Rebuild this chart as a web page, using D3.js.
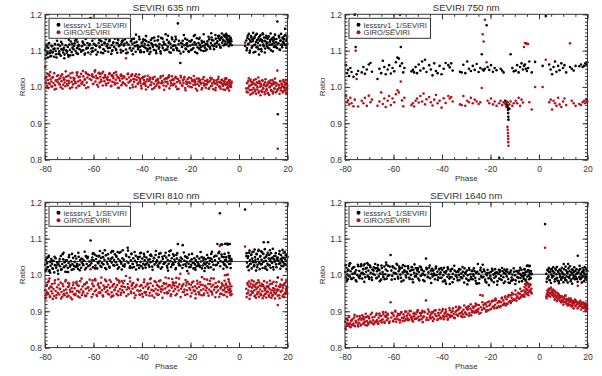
<!DOCTYPE html>
<meta charset="utf-8">
<html>
<body style="margin:0;background:#fff">
<div id="chartContainer"></div>
<script src="https://d3js.org/d3.v7.min.js"></script>
<script>
// phases of the observations used in the 635, 810 and 1640 nm panels
var phase = [
  -79.9,-79.6,-79.4,-79.1,-78.8,-78.6,-78.3,-78.0,-77.7,-77.4,
  -77.1,-76.9,-76.5,-76.2,-75.9,-75.6,-75.4,-75.0,-74.7,-74.4,
  -74.1,-73.8,-73.5,-73.2,-72.9,-72.5,-72.2,-71.9,-71.6,-71.3,
  -71.0,-70.6,-70.3,-70.0,-69.7,-69.4,-69.0,-68.7,-68.4,-68.1,
  -67.8,-67.4,-67.1,-66.8,-66.4,-66.1,-65.8,-65.5,-65.1,-64.8,
  -64.5,-64.2,-63.8,-63.5,-63.2,-62.8,-62.5,-62.2,-61.8,-61.2,
  -60.9,-60.5,-60.2,-59.9,-59.5,-59.2,-58.9,-58.5,-58.2,-57.9,
  -57.5,-57.2,-56.9,-56.5,-56.2,-55.9,-55.5,-55.2,-54.9,-54.5,
  -54.2,-53.9,-53.5,-53.2,-52.8,-52.5,-52.2,-51.8,-51.5,-51.2,
  -50.8,-50.5,-50.2,-49.8,-49.5,-49.1,-48.8,-48.5,-48.1,-47.8,
  -47.5,-47.1,-46.6,-46.3,-45.9,-45.6,-45.3,-44.9,-44.6,-44.3,
  -43.9,-43.6,-43.3,-42.9,-42.6,-42.2,-41.9,-41.6,-41.2,-40.9,
  -40.6,-40.2,-39.9,-39.5,-39.2,-38.9,-38.5,-38.2,-37.8,-37.5,
  -37.2,-36.8,-36.5,-36.1,-35.8,-35.5,-35.1,-34.8,-34.4,-34.1,
  -33.8,-33.4,-33.1,-32.8,-32.4,-32.1,-31.7,-31.4,-31.1,-30.7,
  -30.4,-30.0,-29.7,-29.4,-29.0,-28.7,-28.3,-28.0,-27.7,-27.3,
  -27.0,-26.6,-26.3,-26.0,-25.6,-25.2,-24.9,-24.6,-24.2,-23.9,
  -23.5,-23.2,-22.9,-22.5,-22.2,-21.8,-21.5,-21.2,-20.8,-20.5,
  -20.1,-19.8,-19.5,-19.1,-18.8,-18.4,-18.1,-17.8,-17.4,-17.1,
  -16.7,-16.4,-16.1,-15.7,-15.4,-15.0,-14.7,-14.4,-14.0,-13.7,
  -13.3,-13.0,-12.7,-12.3,-12.0,-11.6,-11.3,-11.0,-10.6,-10.3,
  -9.9,-9.6,-9.3,-8.9,-8.6,-8.2,-7.9,-7.6,-7.2,-6.9,
  -6.6,-6.3,-6.0,-5.7,-5.4,-5.1,-4.8,-4.5,-4.2,-3.9,
  -3.6,-3.3,-3.0,-5.0,-4.6,-4.0,-6.2,-5.8,-3.8,-7.4,
  2.5,3.0,3.3,3.6,3.9,4.2,4.5,4.8,5.1,5.4,
  5.7,6.0,6.3,6.6,6.9,7.2,7.5,7.8,8.1,8.4,
  8.7,9.0,9.3,9.6,9.9,10.2,10.5,10.8,11.1,11.4,
  11.7,12.0,12.3,12.6,12.9,13.2,13.5,13.8,14.1,14.4,
  14.7,15.0,15.3,15.7,16.0,16.3,16.6,16.9,17.2,17.5,
  17.8,18.1,18.4,18.7,19.0,19.3,19.5,19.7,19.9,15.8,
  -79.75,-79.25,-78.95,-78.45,-77.85,-77.25,-76.75,-76.05,-75.25,-74.55,
  -73.95,-73.35,-72.75,-72.05,-71.45,-70.85,-70.15,-69.55,-68.85,-68.25,
  -67.55,-66.95,-66.25,-65.65,-64.95,-64.35,-63.65,-63.05,-62.35,-61.55,
  -60.75,-60.05,-59.35,-58.75,-58.05,-57.35,-56.75,-56.05,-55.35,-54.75,
  -54.05,-53.35,-52.65,-51.95,-51.35,-50.65,-49.95,-49.35,-48.65,-47.95,
  -47.25,-46.45,-45.75,-45.05,-44.45,-43.75,-43.05,-42.45,-41.75,-41.05,
  -40.35,-39.65,-39.05,-38.35,-37.65,-36.95,-36.35,-35.65,-34.95,-34.25,
  -33.55,-32.95,-32.25,-31.55,-30.85,-30.25,-29.55,-28.85,-28.15,-27.55,
  -26.85,-26.15,-25.45,-24.75,-24.05,-23.35,-22.75,-22.05,-21.35,-20.65,
  -19.95,-19.35,-18.65,-17.95,-17.25,-16.55,-15.85,-15.25,-14.55,-13.85,
  -13.15,-12.55,-11.85,-11.15,-10.45,-9.75,-9.15,-8.45,-7.75,-7.05,
  -6.45,-5.95,-5.55,-5.25,-4.95,-4.35,-4.05,-3.75,-3.45,-3.15,
  3.15,3.45,3.75,4.05,4.35,4.65,4.95,5.25,5.55,5.85,
  6.15,6.45,6.75,7.05,7.35,7.65,7.95,8.25,8.55,8.85,
  9.15,9.45,9.75,10.05,10.35,10.65,10.95,11.25,11.55,11.85,
  12.15,12.45,12.75,13.05,13.35,13.65,13.95,14.25,14.55,14.85,
  15.15,15.45,15.95,16.45,16.75,17.05,17.35,17.65,17.95,18.25,
  18.55,18.85,19.15,19.45,19.65,19.85,-78.15,-72.35,-66.65,-60.35,
  -52.35,-44.05,-36.65,-29.25,-21.65,-16.25,-11.45,-8.15,-70.45,-57.65,
  -48.35,-40.75,-33.25,-25.85,-18.15,-62.95,-50.05,-38.75,-27.15,-14.25
];

var less635 = [
  1.102,1.088,1.115,1.097,1.081,1.108,1.121,1.093,1.100,1.085,
  1.112,1.095,1.104,1.083,1.118,1.099,1.090,1.127,1.106,1.092,
  1.098,1.113,1.086,1.104,1.119,1.095,1.108,1.089,1.135,1.101,
  1.094,1.110,1.083,1.117,1.102,1.125,1.096,1.108,1.088,1.113,
  1.120,1.099,1.131,1.107,1.091,1.116,1.104,1.138,1.097,1.112,
  1.125,1.101,1.117,1.092,1.132,1.108,1.121,1.095,1.114,1.190,
  1.106,1.127,1.098,1.119,1.134,1.102,1.113,1.142,1.096,1.121,
  1.110,1.128,1.095,1.116,1.137,1.104,1.122,1.099,1.131,1.112,
  1.118,1.097,1.126,1.108,1.139,1.115,1.101,1.123,1.110,1.133,
  1.105,1.121,1.094,1.129,1.112,1.140,1.102,1.118,1.127,1.099,
  1.114,1.131,1.103,1.122,1.095,1.117,1.136,1.108,1.125,1.100,
  1.119,1.106,1.133,1.112,1.097,1.124,1.115,1.104,1.138,1.110,
  1.101,1.121,1.113,1.131,1.096,1.118,1.107,1.126,1.099,1.115,
  1.123,1.108,1.097,1.120,1.134,1.111,1.102,1.127,1.116,1.093,
  1.112,1.129,1.105,1.118,1.098,1.135,1.114,1.107,1.124,1.101,
  1.117,1.103,1.130,1.111,1.122,1.096,1.119,1.108,1.136,1.113,
  1.102,1.125,1.114,1.131,1.106,1.175,1.118,1.099,1.066,1.121,
  1.110,1.127,1.097,1.115,1.133,1.104,1.120,1.112,1.098,1.126,
  1.114,1.102,1.129,1.117,1.107,1.123,1.096,1.119,1.134,1.109,
  1.121,1.105,1.116,1.101,1.127,1.112,1.099,1.124,1.108,1.118,
  1.103,1.126,1.113,1.131,1.109,1.121,1.136,1.115,1.128,1.104,
  1.119,1.133,1.111,1.126,1.140,1.117,1.129,1.108,1.137,1.122,
  1.130,1.114,1.143,1.125,1.136,1.118,1.141,1.127,1.112,1.133,
  1.120,1.131,1.115,1.138,1.124,1.129,1.142,1.117,1.126,1.134,
  1.113,1.128,1.107,1.141,1.119,1.132,1.100,1.124,1.137,1.111,
  1.126,1.095,1.134,1.117,1.143,1.109,1.129,1.121,1.104,1.138,
  1.115,1.131,1.098,1.124,1.145,1.112,1.127,1.106,1.135,1.119,
  1.122,1.108,1.139,1.116,1.129,1.101,1.133,1.118,1.126,1.110,
  1.131,1.114,1.123,1.107,0.925,1.120,1.136,1.102,1.128,1.117,
  1.109,1.134,1.121,1.140,1.160,1.115,1.127,1.132,1.119,1.180,
  1.078,1.109,1.092,1.120,1.084,1.113,1.096,1.106,1.081,1.117,
  1.090,1.124,1.102,1.079,1.115,1.098,1.130,1.087,1.119,1.104,
  1.128,1.093,1.112,1.141,1.100,1.122,1.089,1.135,1.107,1.118,
  1.097,1.135,1.116,1.089,1.143,1.109,1.126,1.093,1.120,1.138,
  1.107,1.129,1.091,1.121,1.146,1.102,1.132,1.115,1.095,1.127,
  1.119,1.093,1.141,1.106,1.128,1.090,1.122,1.144,1.111,1.131,
  1.096,1.125,1.110,1.140,1.104,1.091,1.129,1.117,1.136,1.100,
  1.128,1.109,1.092,1.133,1.118,1.145,1.103,1.124,1.094,1.131,
  1.114,1.138,1.101,1.127,1.092,1.119,1.143,1.106,1.130,1.097,
  1.125,1.103,1.140,1.116,1.093,1.132,1.109,1.122,1.145,1.100,
  1.119,1.138,1.105,1.129,1.112,1.143,1.121,1.134,1.110,1.147,
  1.128,1.139,1.118,1.146,1.131,1.123,1.140,1.117,1.135,1.126,
  1.101,1.135,1.118,1.146,1.094,1.127,1.140,1.108,1.131,1.149,
  1.115,1.138,1.097,1.124,1.146,1.110,1.133,1.089,1.127,1.142,
  1.104,1.129,1.148,1.117,1.136,1.095,1.125,1.141,1.112,1.133,
  1.139,1.106,1.124,1.147,1.116,1.131,1.098,1.137,1.121,1.144,
  1.110,1.132,1.119,1.141,1.103,1.127,1.146,1.114,1.136,1.124,
  1.131,1.117,1.143,1.108,1.128,1.139,1.094,1.103,1.124,1.107,
  1.099,1.132,1.106,1.141,1.118,1.135,1.148,1.141,1.088,1.129,
  1.124,1.096,1.139,1.108,1.143,1.105,1.120,1.129,1.102,1.114
];
var giro635 = [
  1.055,1.012,1.028,1.003,1.019,0.997,1.034,1.008,1.022,1.015,
  1.001,1.026,1.011,1.038,1.005,1.018,0.995,1.030,1.013,1.021,
  1.009,1.024,0.999,1.016,1.035,1.006,1.020,1.012,1.002,1.028,
  1.017,1.004,1.031,1.011,0.996,1.025,1.014,1.039,1.007,1.019,
  1.023,1.010,0.998,1.032,1.015,1.027,1.003,1.018,1.036,1.009,
  1.014,1.029,1.005,1.021,1.040,1.012,1.026,0.999,1.033,1.090,
  1.019,1.035,1.008,1.027,1.042,1.015,1.031,1.006,1.024,1.038,
  1.012,1.028,1.020,1.037,1.004,1.025,1.016,1.033,1.009,1.022,
  1.027,1.011,1.035,1.018,1.002,1.030,1.014,1.024,1.038,1.007,
  1.020,1.033,1.010,1.026,0.998,1.017,1.031,1.005,1.023,1.013,
  1.029,1.008,1.079,1.021,1.035,1.012,1.026,0.997,1.018,1.032,
  1.006,1.022,1.014,1.030,1.001,1.019,1.027,1.010,1.034,1.016,
  1.011,0.996,1.024,1.008,1.019,1.029,1.003,1.015,1.021,1.000,
  1.017,1.026,1.005,1.013,0.994,1.022,1.009,1.028,1.002,1.018,
  1.007,1.020,1.012,0.998,1.025,1.010,1.016,1.031,1.004,1.021,
  1.014,1.002,1.023,1.009,1.027,0.996,1.017,1.011,1.029,1.005,
  1.019,1.008,1.025,1.001,1.013,1.022,0.995,1.016,1.010,1.026,
  1.004,1.018,1.011,1.027,0.997,1.015,1.008,1.021,1.002,1.013,
  1.010,1.024,0.999,1.016,1.006,1.020,1.012,0.995,1.023,1.008,
  1.015,1.003,1.019,1.009,0.993,1.021,1.011,1.004,1.017,0.998,
  1.007,1.020,1.013,0.996,1.016,1.002,1.024,1.010,0.994,1.014,
  1.009,0.998,1.018,1.006,1.022,1.001,1.012,0.995,1.019,1.008,
  1.003,1.016,1.010,0.992,1.021,1.007,1.013,0.999,1.017,1.005,
  1.011,1.000,1.014,1.006,0.996,1.019,1.008,1.023,1.002,1.012,
  1.122,0.996,1.010,0.985,1.017,1.002,0.991,1.020,1.006,0.982,
  1.013,0.998,1.008,0.988,1.021,1.004,0.993,1.011,0.984,1.016,
  1.001,1.009,0.990,1.018,0.997,1.005,0.986,1.013,1.002,0.994,
  1.007,0.983,1.015,0.999,1.010,0.992,1.004,1.019,0.987,1.008,
  0.995,1.012,1.003,0.989,0.830,1.006,0.997,1.016,0.991,1.009,
  1.002,0.985,1.014,0.996,1.007,1.020,0.993,1.011,1.004,1.045,
  1.024,0.998,1.036,1.010,1.041,1.002,1.027,0.993,1.018,1.032,
  1.006,1.030,0.995,1.021,1.043,1.008,1.017,1.037,0.999,1.025,
  1.014,1.039,1.003,1.028,1.010,1.044,1.020,0.997,1.035,1.022,
  1.031,1.009,1.046,1.024,1.001,1.036,1.015,1.042,1.027,1.005,
  1.019,1.038,1.003,1.029,1.012,1.041,0.998,1.023,1.034,1.011,
  1.026,1.004,1.037,1.015,1.030,0.999,1.021,1.035,1.008,1.024,
  1.003,1.027,1.012,0.993,1.031,1.018,1.006,1.025,0.997,1.016,
  1.022,1.001,1.029,1.011,0.992,1.024,1.014,1.032,1.004,1.019,
  1.009,1.028,0.994,1.017,1.031,1.003,1.021,0.991,1.012,1.026,
  1.000,1.018,1.030,1.006,0.990,1.023,1.013,0.997,1.027,1.008,
  1.016,0.995,1.025,1.004,1.019,0.991,1.012,1.028,1.001,1.020,
  0.993,1.015,1.006,1.024,0.998,1.011,0.990,1.018,1.003,1.009,
  0.987,1.012,0.996,1.024,1.004,0.979,1.015,0.992,1.008,0.984,
  1.019,0.993,1.006,0.981,1.013,0.999,1.026,0.988,1.010,0.977,
  1.003,0.986,1.017,0.995,1.008,0.980,1.021,0.990,1.005,0.983,
  1.012,0.978,1.001,1.018,0.989,1.009,0.982,1.014,0.996,1.023,
  0.985,1.010,0.994,1.004,0.981,1.016,0.998,1.007,0.988,1.019,
  1.001,0.990,1.012,0.983,1.006,0.995,1.030,1.025,1.040,1.028,
  1.033,1.035,1.022,1.026,1.009,1.017,1.021,1.014,1.030,1.039,
  1.031,1.019,1.012,1.024,1.016,1.037,1.027,1.008,1.021,1.005
];

var less810 = [
  1.028,1.041,1.015,1.033,1.022,1.049,1.010,1.036,1.025,1.044,
  1.031,1.018,1.039,1.007,1.027,1.046,1.020,1.034,1.012,1.029,
  1.037,1.024,1.052,1.016,1.030,1.043,1.021,1.035,1.009,1.026,
  1.040,1.019,1.033,1.055,1.023,1.038,1.014,1.030,1.047,1.025,
  1.036,1.022,1.045,1.031,1.017,1.050,1.028,1.041,1.020,1.034,
  1.043,1.027,1.039,1.015,1.052,1.030,1.046,1.024,1.037,1.095,
  1.032,1.048,1.021,1.040,1.056,1.026,1.044,1.018,1.035,1.051,
  1.038,1.025,1.047,1.033,1.060,1.029,1.042,1.019,1.054,1.036,
  1.030,1.045,1.023,1.039,1.062,1.034,1.048,1.027,1.041,1.057,
  1.035,1.050,1.028,1.044,1.021,1.039,1.063,1.031,1.046,1.025,
  1.042,1.029,1.056,1.037,1.075,1.033,1.049,1.024,1.040,1.058,
  1.031,1.046,1.022,1.039,1.053,1.034,1.027,1.044,1.019,1.050,
  1.036,1.024,1.045,1.031,1.058,1.040,1.020,1.048,1.033,1.042,
  1.027,1.043,1.035,1.052,1.023,1.038,1.047,1.029,1.055,1.034,
  1.040,1.026,1.049,1.032,1.060,1.037,1.021,1.044,1.030,1.053,
  1.035,1.048,1.025,1.041,1.031,1.065,1.038,1.022,1.046,1.033,
  1.029,1.042,1.036,1.019,1.045,1.085,1.032,1.040,1.026,1.037,
  1.044,1.082,1.028,1.039,1.051,1.024,1.036,1.047,1.031,1.021,
  1.038,1.027,1.043,1.033,1.018,1.046,1.029,1.040,1.024,1.035,
  1.030,1.045,1.022,1.037,1.049,1.026,1.041,1.032,1.019,1.043,
  1.034,1.024,1.047,1.031,1.039,1.021,1.044,1.036,1.028,1.050,
  1.040,1.027,1.052,1.085,1.033,1.045,1.170,1.038,1.056,1.084,
  1.035,1.049,1.030,1.086,1.042,1.085,1.036,1.084,1.053,1.039,
  1.031,1.044,1.038,1.085,1.086,1.047,1.029,1.040,1.085,1.084,
  1.180,1.052,1.034,1.047,1.025,1.061,1.040,1.031,1.056,1.045,
  1.038,1.064,1.027,1.049,1.035,1.058,1.021,1.044,1.069,1.033,
  1.050,1.029,1.042,1.062,1.036,1.090,1.047,1.018,1.039,1.055,
  1.031,1.090,1.045,1.027,1.040,1.060,1.035,1.048,1.022,1.043,
  1.036,1.052,1.029,1.046,0.993,1.039,1.058,1.032,1.044,1.025,
  1.048,1.035,1.061,1.030,1.043,1.054,1.038,1.027,1.049,1.041,
  1.012,1.047,1.021,1.053,1.006,1.038,1.017,1.050,1.026,1.003,
  1.044,1.014,1.057,1.023,1.040,1.008,1.049,1.027,1.058,1.016,
  1.052,1.025,1.061,1.013,1.045,1.030,1.064,1.019,1.050,1.027,
  1.041,1.060,1.018,1.053,1.032,1.066,1.022,1.049,1.068,1.016,
  1.057,1.020,1.045,1.065,1.026,1.053,1.017,1.061,1.034,1.068,
  1.023,1.052,1.067,1.019,1.058,1.030,1.063,1.015,1.049,1.027,
  1.061,1.018,1.051,1.030,1.064,1.022,1.056,1.014,1.046,1.066,
  1.025,1.058,1.017,1.050,1.032,1.061,1.020,1.054,1.067,1.028,
  1.052,1.016,1.060,1.027,1.048,1.019,1.062,1.030,1.011,1.056,
  1.022,1.058,1.033,1.014,1.051,1.026,1.063,1.018,1.047,1.029,
  1.055,1.020,1.046,1.064,1.015,1.053,1.028,1.060,1.024,1.050,
  1.017,1.058,1.026,1.049,1.021,1.061,1.030,1.052,1.019,1.044,
  1.060,1.022,1.051,1.013,1.067,1.030,1.055,1.018,1.063,1.035,
  1.024,1.070,1.041,1.012,1.057,1.028,1.066,1.036,1.016,1.052,
  1.065,1.030,1.019,1.058,1.037,1.071,1.023,1.050,1.014,1.061,
  1.027,1.055,1.068,1.020,1.046,1.033,1.072,1.015,1.052,1.039,
  1.060,1.021,1.048,1.031,1.066,1.017,1.055,1.040,1.069,1.024,
  1.047,1.063,1.029,1.056,1.016,1.051,1.013,1.061,1.024,1.058,
  1.066,1.020,1.054,1.012,1.049,1.025,1.058,1.064,1.008,1.053,
  1.015,1.060,1.022,1.055,1.018,1.050,1.063,1.027,1.057,1.011
];
var giro810 = [
  0.958,0.944,0.971,0.952,0.980,0.947,0.963,0.939,0.968,0.955,
  0.975,0.949,0.961,0.942,0.985,0.956,0.937,0.966,0.951,0.973,
  0.946,0.962,0.979,0.953,0.940,0.969,0.957,0.944,0.982,0.960,
  0.950,0.967,0.943,0.976,0.959,0.938,0.964,0.954,0.972,0.947,
  0.963,0.948,0.977,0.956,0.941,0.970,0.952,0.983,0.960,0.945,
  0.968,0.954,0.974,0.943,0.962,0.980,0.949,0.966,0.957,1.016,
  0.961,0.976,0.947,0.969,0.955,0.985,0.959,0.942,0.972,0.951,
  0.964,0.950,0.978,0.958,0.944,0.971,0.962,0.987,0.953,0.967,
  0.957,0.973,0.946,0.965,0.981,0.952,0.968,0.943,0.975,0.960,
  0.966,0.948,0.972,0.955,0.984,0.961,0.945,0.969,0.958,0.977,
  0.952,0.967,0.997,0.960,0.975,0.947,0.963,0.982,0.954,0.970,
  0.962,0.978,0.950,0.966,0.944,0.973,0.958,0.986,0.955,0.969,
  0.957,0.971,0.948,0.964,0.980,0.953,0.968,0.945,0.974,0.961,
  0.966,0.951,0.977,0.959,0.943,0.970,0.956,0.983,0.962,0.949,
  0.972,0.958,0.946,0.967,0.985,0.954,0.969,0.960,0.978,0.950,
  0.963,0.976,0.952,0.968,0.991,0.957,0.971,0.947,0.965,0.980,
  0.955,0.970,0.961,0.979,0.948,0.966,0.957,0.974,1.003,0.962,
  0.968,0.953,0.975,0.960,0.945,0.971,0.958,0.981,1.004,0.964,
  0.959,0.973,0.950,0.966,0.982,0.956,0.969,0.947,0.963,0.976,
  0.953,0.967,0.980,0.958,0.944,0.972,0.961,0.949,0.970,0.957,
  0.964,0.951,0.975,0.960,0.984,0.955,0.968,0.946,0.973,0.959,
  0.966,0.978,0.952,0.969,0.957,0.981,1.080,0.963,0.948,0.972,
  0.958,0.970,0.945,0.964,0.976,0.953,0.967,0.960,0.982,0.950,
  0.962,0.955,0.947,1.000,1.001,0.968,0.959,0.999,0.952,0.966,
  1.078,0.962,0.949,0.973,0.957,0.968,0.944,0.976,0.955,0.965,
  0.951,0.970,0.958,0.943,0.974,0.961,0.947,0.966,0.953,0.979,
  0.960,0.946,0.969,0.955,0.972,0.942,0.963,0.957,0.949,0.968,
  0.954,0.966,0.945,0.961,0.975,0.950,0.958,0.943,0.964,0.952,
  0.962,0.948,0.970,0.956,0.917,0.959,0.944,0.967,0.953,0.971,
  0.957,0.965,0.946,0.973,0.951,0.962,0.955,0.968,0.949,0.960,
  0.936,0.972,0.950,0.983,0.941,0.966,0.934,0.977,0.945,0.988,
  0.961,0.935,0.975,0.948,0.986,0.940,0.969,0.953,0.933,0.979,
  0.944,0.981,0.956,0.938,0.990,0.951,0.974,0.942,0.965,0.987,
  0.939,0.970,0.989,0.945,0.976,0.952,0.993,0.941,0.967,0.983,
  0.948,0.986,0.939,0.973,0.958,0.990,0.944,0.979,0.951,0.968,
  0.984,0.942,0.966,0.992,0.950,0.978,0.937,0.970,0.988,0.946,
  0.972,0.940,0.987,0.953,0.976,0.943,0.991,0.958,0.938,0.980,
  0.945,0.983,0.961,0.937,0.975,0.993,0.949,0.972,0.942,0.989,
  0.977,0.944,0.968,0.990,0.939,0.971,0.953,0.986,0.947,0.975,
  0.941,0.979,0.958,0.936,0.984,0.950,0.973,0.994,0.944,0.968,
  0.987,0.943,0.975,0.952,0.990,0.939,0.966,0.981,0.948,0.977,
  0.945,0.984,0.953,0.972,0.940,0.988,0.957,0.976,0.944,0.969,
  0.939,0.977,0.950,0.982,0.934,0.968,0.946,0.985,0.953,0.973,
  0.982,0.941,0.967,0.937,0.978,0.952,0.985,0.940,0.971,0.948,
  0.944,0.975,0.936,0.969,0.983,0.947,0.962,0.938,0.979,0.953,
  0.970,0.940,0.984,0.951,0.937,0.976,0.945,0.981,0.958,0.935,
  0.950,0.980,0.943,0.968,0.936,0.974,0.955,0.987,0.941,0.972,
  0.939,0.977,0.948,0.984,0.955,0.966,0.990,0.946,0.972,0.985,
  0.942,0.974,0.988,0.951,0.979,0.946,0.991,0.940,0.978,0.967,
  0.983,0.945,0.969,0.992,0.955,0.977,0.986,0.951,0.973,0.989
];

var less1640 = [
  1.008,0.993,1.019,1.001,0.988,1.014,1.025,0.996,1.010,0.990,
  1.017,1.003,0.992,1.022,1.007,0.986,1.013,1.000,1.028,0.995,
  1.011,0.998,1.024,1.005,0.990,1.016,1.002,1.030,0.994,1.009,
  1.020,0.997,1.012,0.989,1.026,1.006,0.993,1.015,1.003,1.021,
  1.000,1.018,0.991,1.010,1.027,0.996,1.013,1.004,0.987,1.019,
  1.008,0.994,1.023,1.002,1.015,0.990,1.011,1.025,0.999,1.055,
  1.012,0.997,1.021,1.006,0.989,1.017,1.003,1.028,0.995,1.010,
  1.016,1.001,0.992,1.020,1.007,0.985,1.013,1.024,0.998,1.009,
  1.004,1.018,0.993,1.011,1.000,1.022,0.988,1.014,1.006,0.996,
  1.019,1.003,1.012,0.990,1.008,1.023,0.997,1.015,1.001,0.986,
  1.010,0.999,1.045,1.016,0.994,1.007,1.020,0.991,1.012,1.003,
  0.996,1.013,1.004,0.988,1.018,1.000,1.009,0.993,1.015,1.002,
  1.007,0.992,1.014,0.999,1.020,0.986,1.006,1.011,0.995,1.016,
  1.001,0.975,1.010,0.994,1.017,1.003,0.989,1.012,0.998,1.008,
  0.993,1.011,1.000,0.986,1.015,1.004,0.991,1.009,0.997,1.018,
  1.005,0.990,1.012,0.999,0.984,1.014,1.002,0.994,1.010,0.988,
  0.998,1.011,0.992,1.006,0.976,1.030,1.003,0.989,1.013,0.996,
  1.008,1.028,0.995,1.010,0.987,1.004,0.999,1.014,0.991,1.006,
  0.997,1.009,0.985,1.012,1.001,0.992,1.016,0.996,1.007,0.983,
  1.003,0.990,1.013,0.998,0.986,1.010,0.994,1.005,0.982,1.011,
  0.996,1.008,0.989,1.004,0.978,1.012,0.993,1.001,0.987,1.009,
  0.999,0.985,1.011,0.994,1.006,0.981,1.003,0.992,1.014,0.997,
  1.005,0.990,1.015,1.000,0.987,1.009,0.995,1.013,0.998,1.007,
  0.993,1.011,1.002,1.025,1.026,1.024,0.989,1.006,1.025,1.000,
  1.140,1.003,0.990,1.012,0.996,1.008,0.985,1.015,1.001,0.993,
  1.010,0.997,1.006,0.988,1.014,1.002,0.992,1.009,0.983,1.004,
  0.998,1.012,0.991,1.007,0.995,1.030,1.001,0.986,1.013,0.996,
  1.005,1.030,0.994,1.010,0.999,0.987,1.015,1.003,0.991,1.008,
  0.997,1.011,1.002,0.989,1.053,1.006,0.994,1.016,1.000,0.992,
  1.009,0.996,1.013,1.004,0.990,1.018,1.001,0.993,1.011,1.006,
  1.027,0.984,1.011,0.997,1.032,0.989,1.020,1.004,0.982,1.024,
  0.991,1.029,1.006,0.981,1.018,1.033,0.994,1.021,0.986,1.012,
  1.030,0.992,1.016,0.983,1.026,1.001,0.988,1.034,0.997,1.023,
  0.987,1.021,1.005,1.031,0.990,1.019,0.982,1.027,1.009,0.993,
  1.024,0.989,1.013,0.980,1.029,0.996,1.018,0.985,1.022,1.004,
  0.983,1.020,0.995,1.026,0.978,1.012,0.999,1.023,0.986,1.017,
  1.019,0.982,1.008,0.976,1.021,0.990,1.014,0.980,1.025,0.998,
  0.985,1.016,0.994,1.022,0.979,1.007,0.974,1.019,0.988,1.012,
  1.018,0.984,1.009,0.977,1.020,0.993,1.015,0.981,1.005,0.972,
  0.990,1.017,0.980,1.006,0.973,1.014,0.988,1.019,0.978,1.003,
  1.015,0.979,1.007,0.985,1.018,0.975,1.010,0.992,1.020,0.983,
  0.996,1.016,0.984,1.009,0.979,1.013,0.988,1.002,0.991,1.004,
  0.981,1.014,0.993,1.019,0.986,1.008,0.978,1.016,0.997,1.021,
  1.006,0.982,1.017,0.990,1.022,0.984,1.011,0.977,1.015,0.994,
  0.987,1.020,1.003,0.980,1.016,0.991,1.023,0.985,1.009,0.979,
  1.018,0.992,1.024,0.983,1.007,0.976,1.014,0.998,1.021,0.988,
  0.994,1.016,0.981,1.012,1.025,0.988,1.004,0.979,1.019,1.009,
  0.983,1.022,0.996,1.015,0.986,1.011,1.031,1.026,1.019,1.024,
  1.021,1.017,0.994,0.986,0.979,1.008,0.984,1.012,1.029,1.023,
  1.014,0.992,1.009,0.977,1.005,1.028,1.016,0.983,1.002,1.015
];
var giro1640 = [
  0.871,0.858,0.880,0.864,0.875,0.860,0.884,0.867,0.856,0.873,
  0.862,0.878,0.866,0.883,0.859,0.874,0.869,0.886,0.863,0.877,
  0.868,0.881,0.861,0.876,0.889,0.866,0.879,0.872,0.862,0.884,
  0.873,0.886,0.865,0.880,0.871,0.891,0.868,0.883,0.875,0.864,
  0.885,0.870,0.890,0.876,0.866,0.882,0.894,0.873,0.887,0.869,
  0.878,0.892,0.871,0.886,0.897,0.875,0.889,0.880,0.868,0.925,
  0.883,0.895,0.874,0.888,0.879,0.899,0.871,0.886,0.893,0.877,
  0.890,0.876,0.896,0.882,0.873,0.892,0.885,0.899,0.878,0.888,
  0.881,0.894,0.877,0.889,0.900,0.884,0.874,0.893,0.886,0.879,
  0.892,0.880,0.898,0.885,0.875,0.895,0.887,0.878,0.901,0.883,
  0.886,0.897,0.930,0.882,0.893,0.876,0.899,0.888,0.880,0.894,
  0.884,0.898,0.879,0.892,0.903,0.887,0.876,0.895,0.889,0.881,
  0.896,0.883,0.901,0.888,0.878,0.894,0.905,0.886,0.892,0.880,
  0.890,0.903,0.884,0.897,0.887,0.908,0.893,0.881,0.899,0.891,
  0.902,0.888,0.906,0.894,0.910,0.886,0.899,0.892,0.904,0.885,
  0.897,0.910,0.891,0.904,0.914,0.895,0.907,0.889,0.902,0.912,
  0.909,0.896,0.914,0.902,0.918,0.899,0.907,0.893,0.945,0.911,
  0.904,0.943,0.917,0.907,0.922,0.899,0.913,0.925,0.903,0.916,
  0.920,0.906,0.926,0.912,0.929,0.908,0.918,0.931,0.910,0.923,
  0.914,0.928,0.911,0.925,0.935,0.917,0.930,0.921,0.938,0.916,
  0.933,0.920,0.940,0.926,0.944,0.923,0.937,0.929,0.947,0.931,
  0.932,0.946,0.929,0.941,0.951,0.935,0.948,0.938,0.955,0.943,
  0.944,0.957,0.940,0.953,0.962,0.947,0.960,0.951,0.966,0.955,
  0.958,0.952,0.949,0.975,0.976,0.974,0.946,0.975,0.975,0.940,
  1.075,0.941,0.948,0.953,0.944,0.958,0.950,0.962,0.946,0.956,
  0.951,0.940,0.956,0.944,0.937,0.950,0.942,0.933,0.947,0.939,
  0.936,0.928,0.942,0.931,0.938,0.925,0.934,0.943,0.927,0.932,
  0.930,0.921,0.935,0.926,0.918,0.931,0.924,0.915,0.928,0.922,
  0.925,0.916,0.928,0.919,0.970,0.922,0.913,0.926,0.917,0.923,
  0.912,0.920,0.909,0.917,0.913,0.921,0.910,0.915,0.907,0.924,
  0.852,0.879,0.866,0.887,0.857,0.876,0.862,0.890,0.870,0.858,
  0.887,0.863,0.881,0.869,0.893,0.861,0.884,0.872,0.896,0.866,
  0.871,0.894,0.866,0.889,0.875,0.898,0.868,0.884,0.893,0.872,
  0.896,0.872,0.901,0.879,0.892,0.869,0.898,0.881,0.874,0.899,
  0.875,0.901,0.883,0.872,0.896,0.880,0.903,0.877,0.893,0.870,
  0.899,0.876,0.905,0.883,0.894,0.873,0.902,0.887,0.878,0.904,
  0.880,0.906,0.885,0.899,0.877,0.909,0.888,0.901,0.883,0.912,
  0.889,0.912,0.895,0.884,0.916,0.893,0.907,0.888,0.919,0.897,
  0.899,0.921,0.904,0.917,0.896,0.925,0.909,0.919,0.902,0.927,
  0.906,0.929,0.913,0.935,0.909,0.927,0.914,0.938,0.918,0.941,
  0.921,0.945,0.928,0.951,0.933,0.957,0.937,0.949,0.962,0.944,
  0.941,0.967,0.952,0.971,0.958,0.944,0.969,0.956,0.973,0.962,
  0.936,0.957,0.943,0.962,0.950,0.940,0.965,0.953,0.945,0.960,
  0.947,0.932,0.954,0.938,0.928,0.950,0.935,0.945,0.929,0.941,
  0.924,0.940,0.929,0.918,0.937,0.926,0.943,0.921,0.933,0.916,
  0.931,0.917,0.927,0.935,0.913,0.929,0.920,0.908,0.926,0.932,
  0.914,0.927,0.908,0.923,0.916,0.929,0.905,0.919,0.911,0.924,
  0.910,0.921,0.903,0.918,0.907,0.915,0.864,0.885,0.872,0.893,
  0.879,0.898,0.886,0.912,0.903,0.926,0.944,0.935,0.868,0.892,
  0.896,0.883,0.905,0.897,0.930,0.888,0.902,0.895,0.912,0.922
];

// the 750 nm panel has its own, sparser set of observations
var phase750 = [
  -79.6,-79.2,-78.7,-78.3,-77.8,-77.3,-76.5,-76.0,-75.6,-75.2,-74.6,
  -73.1,-72.4,-71.8,-71.0,-70.2,-69.5,-68.9,
  -66.6,-65.8,-65.1,-64.4,-63.8,-63.2,
  -62.4,-61.8,-61.1,-60.4,-59.7,-59.0,-58.4,-57.8,-57.3,-57.0,-56.5,-56.0,-55.5,
  -52.6,-52.0,-51.5,-50.9,-50.3,-49.6,-48.9,-48.2,-47.6,-47.0,-46.4,
  -45.3,-44.6,-43.9,-43.2,-42.5,-41.8,-41.0,-40.2,-39.3,-38.5,
  -37.4,-36.8,-36.2,-35.6,
  -32.6,-31.9,-31.2,-30.4,-29.6,-28.9,-28.1,-27.3,-26.5,-25.7,-24.9,-24.2,
  -23.6,-23.2,-22.8,-22.3,-21.6,-21.2,-20.5,-19.8,-19.0,-18.3,-17.5,
  -16.4,-15.8,-15.2,-14.6,-14.0,-13.6,-13.3,-13.0,-12.9,-12.8,-12.75,-12.7,-12.65,-12.6,-12.2,-11.7,-11.0,-10.4,
  -9.6,-9.0,-8.4,-7.8,-7.2,-6.6,-6.2,-5.8,-5.4,-5.0,-4.5,-4.0,-3.0,
  -1.6,1.5,2.8,
  4.2,4.8,5.4,6.0,6.6,7.2,7.9,8.5,9.2,9.9,10.5,11.2,
  12.8,13.5,14.3,15.1,16.6,17.3,18.0,18.6,19.1,19.5,19.9
];
var less750 = [
  1.060,1.038,1.047,1.030,1.052,1.041,1.028,1.199,1.110,1.035,1.044,
  1.040,1.055,1.036,1.048,1.062,1.066,1.042,
  1.022,1.050,1.038,1.072,1.055,1.035,
  1.048,1.060,1.037,1.052,1.043,1.068,1.081,1.078,1.058,1.110,1.065,1.040,1.052,
  1.043,1.047,1.040,1.055,1.038,1.062,1.045,1.070,1.051,1.075,1.041,
  1.060,1.048,1.032,1.065,1.044,1.038,1.058,1.035,1.050,1.066,
  1.060,1.054,1.065,1.045,
  1.042,1.040,1.061,1.038,1.070,1.050,1.044,1.058,1.047,1.063,1.041,1.052,
  1.090,1.048,1.045,1.050,1.170,1.055,1.047,1.060,1.042,1.052,1.046,
  0.805,1.050,1.045,1.040,0.962,0.952,0.945,0.958,0.950,0.943,0.937,0.928,0.918,0.910,0.940,1.090,1.052,1.043,
  1.045,1.060,1.040,1.055,1.065,1.048,1.058,1.062,1.050,1.044,1.052,1.070,1.040,
  1.069,1.058,1.195,
  1.062,1.048,1.035,1.055,1.070,1.042,1.058,1.046,1.065,1.052,1.060,1.040,
  1.055,1.050,1.045,1.058,1.057,1.062,1.055,1.058,1.065,1.060,1.068
];
var giro750 = [
  0.975,0.958,0.963,0.952,0.970,0.955,0.947,0.965,1.100,1.022,0.946,
  0.962,0.955,0.970,0.948,0.976,0.958,0.965,
  0.948,0.960,0.985,0.953,0.968,0.945,
  0.962,0.975,0.950,0.968,0.958,0.980,0.991,0.985,1.198,1.015,0.963,0.947,0.970,
  0.950,0.955,0.946,0.962,0.968,0.957,0.975,0.960,0.982,0.952,0.966,
  0.972,0.958,0.949,0.965,0.978,0.955,0.962,0.943,0.969,0.956,
  0.975,0.968,0.972,0.960,
  0.952,0.950,0.975,0.948,0.962,0.958,0.970,0.955,0.965,0.960,0.953,0.958,
  0.997,1.145,1.125,1.185,1.068,0.962,0.955,0.968,0.952,0.960,0.948,
  0.955,0.962,0.950,0.958,0.955,0.948,0.960,0.890,0.882,0.873,0.865,0.857,0.848,0.838,0.952,0.960,0.948,0.955,
  0.962,0.955,0.970,0.948,0.965,0.957,1.110,1.121,1.120,1.119,1.118,0.958,0.938,
  1.000,1.000,1.075,
  0.958,0.965,0.938,0.962,0.955,0.948,0.970,0.952,0.945,0.960,0.968,0.950,
  1.120,0.962,0.955,0.948,0.953,0.950,0.958,0.962,0.955,0.965,0.960
];

var titles = ["SEVIRI 635 nm", "SEVIRI 750 nm", "SEVIRI 810 nm", "SEVIRI 1640 nm"];
var meanRatio = [1.115, null, 1.037, 1.002];
var legendLabels = ["lesssrv1_1/SEVIRI", "GIRO/SEVIRI"];
var xTicks = [-80, -60, -40, -20, 0, 20];
var yTicks = [0.8, 0.9, 1.0, 1.1, 1.2];

var panels = [
  {title: titles[0], x: phase, less: less635, giro: giro635, mean: meanRatio[0], left: 45, top: 14.3},
  {title: titles[1], x: phase750, less: less750, giro: giro750, mean: meanRatio[1], left: 345, top: 14.3},
  {title: titles[2], x: phase, less: less810, giro: giro810, mean: meanRatio[2], left: 45, top: 202.3},
  {title: titles[3], x: phase, less: less1640, giro: giro1640, mean: meanRatio[3], left: 345, top: 202.3}
];

var W = 242.5, H = 145.3;
var black = "#000", red = "#b3121c", ink = "#333";
var font = "'Liberation Sans', Helvetica, Arial, sans-serif";

var svg = d3.select("#chartContainer").append("svg")
    .attr("width", 602).attr("height", 376)
    .style("display", "block")
    .style("font-family", font);

svg.append("rect").attr("width", 602).attr("height", 376).attr("fill", "#fff");

var x = d3.scaleLinear().domain([-80, 20]).range([0, W]);
var y = d3.scaleLinear().domain([0.8, 1.2]).range([H, 0]);
var minorX = d3.range(-80, 20.1, 5);
var minorY = d3.range(80, 120.1, 1).map(function (d) { return d / 100; });

panels.forEach(function (p) {
    var g = svg.append("g").attr("transform", "translate(" + p.left + "," + p.top + ")");

    // mean ratio line, under the points
    if (p.mean != null) {
        g.append("line")
            .attr("x1", 0).attr("x2", W)
            .attr("y1", y(p.mean)).attr("y2", y(p.mean))
            .attr("stroke", "#444").attr("stroke-width", 1);
    }

    var n = Math.min(p.x.length, p.less.length, p.giro.length);
    var idx = d3.range(n);

    g.append("g").selectAll("circle")
        .data(idx).enter().append("circle")
        .attr("cx", function (i) { return x(p.x[i]); })
        .attr("cy", function (i) { return y(p.less[i]); })
        .attr("r", 1.3)
        .attr("fill", black);

    g.append("g").selectAll("circle")
        .data(idx).enter().append("circle")
        .attr("cx", function (i) { return x(p.x[i]); })
        .attr("cy", function (i) { return y(p.giro[i]); })
        .attr("r", 1.3)
        .attr("fill", red);

    // axes with inward ticks on all four sides
    function style(a) {
        a.select(".domain").remove();
        a.selectAll("line").attr("stroke", ink);
        a.selectAll("text").attr("fill", ink).style("font-size", "8.5px").style("font-family", font);
    }
    var fmtX = function (d) { return String(d); };
    var fmtY = d3.format(".1f");

    g.append("g").attr("transform", "translate(0," + H + ")")
        .call(d3.axisBottom(x).tickValues(minorX).tickSize(-2.5).tickFormat(""))
        .call(style);
    g.append("g").attr("transform", "translate(0," + H + ")")
        .call(d3.axisBottom(x).tickValues(xTicks).tickSize(-5).tickPadding(6).tickFormat(fmtX))
        .call(style);
    g.append("g")
        .call(d3.axisTop(x).tickValues(minorX).tickSize(-2.5).tickFormat(""))
        .call(style);
    g.append("g")
        .call(d3.axisTop(x).tickValues(xTicks).tickSize(-5).tickFormat(""))
        .call(style);

    g.append("g")
        .call(d3.axisLeft(y).tickValues(minorY).tickSize(-2.5).tickFormat(""))
        .call(style);
    g.append("g")
        .call(d3.axisLeft(y).tickValues(yTicks).tickSize(-5).tickPadding(3).tickFormat(fmtY))
        .call(style);
    g.append("g").attr("transform", "translate(" + W + ",0)")
        .call(d3.axisRight(y).tickValues(minorY).tickSize(-2.5).tickFormat(""))
        .call(style);
    g.append("g").attr("transform", "translate(" + W + ",0)")
        .call(d3.axisRight(y).tickValues(yTicks).tickSize(-5).tickFormat(""))
        .call(style);

    g.append("rect")
        .attr("width", W).attr("height", H)
        .attr("fill", "none").attr("stroke", ink).attr("stroke-width", 1);

    g.append("text")
        .attr("x", W / 2).attr("y", -3.8)
        .attr("text-anchor", "middle")
        .attr("fill", ink)
        .style("font-size", "9.7px")
        .text(p.title);

    g.append("text")
        .attr("x", W / 2).attr("y", H + 21.5)
        .attr("text-anchor", "middle")
        .attr("fill", ink)
        .style("font-size", "8px")
        .text("Phase");

    g.append("text")
        .attr("transform", "translate(-20," + (H / 2) + ") rotate(-90)")
        .attr("text-anchor", "middle")
        .attr("fill", ink)
        .style("font-size", "8px")
        .text("Ratio");

    // legend
    var lg = g.append("g").attr("transform", "translate(4,4)");
    lg.append("rect")
        .attr("width", 81.5).attr("height", 20)
        .attr("fill", "#fff").attr("stroke", ink).attr("stroke-width", 1);
    lg.selectAll("circle.sym")
        .data(legendLabels).enter().append("circle")
        .attr("class", "sym")
        .attr("cx", 9.5)
        .attr("cy", function (d, i) { return 6.5 + i * 7.5; })
        .attr("r", 2)
        .attr("fill", function (d, i) { return i === 0 ? black : red; });
    lg.selectAll("text")
        .data(legendLabels).enter().append("text")
        .attr("x", 14.5)
        .attr("y", function (d, i) { return 9.3 + i * 7.5; })
        .attr("fill", ink)
        .style("font-size", "7.6px")
        .text(function (d) { return d; });
});
</script>
</body>
</html>
